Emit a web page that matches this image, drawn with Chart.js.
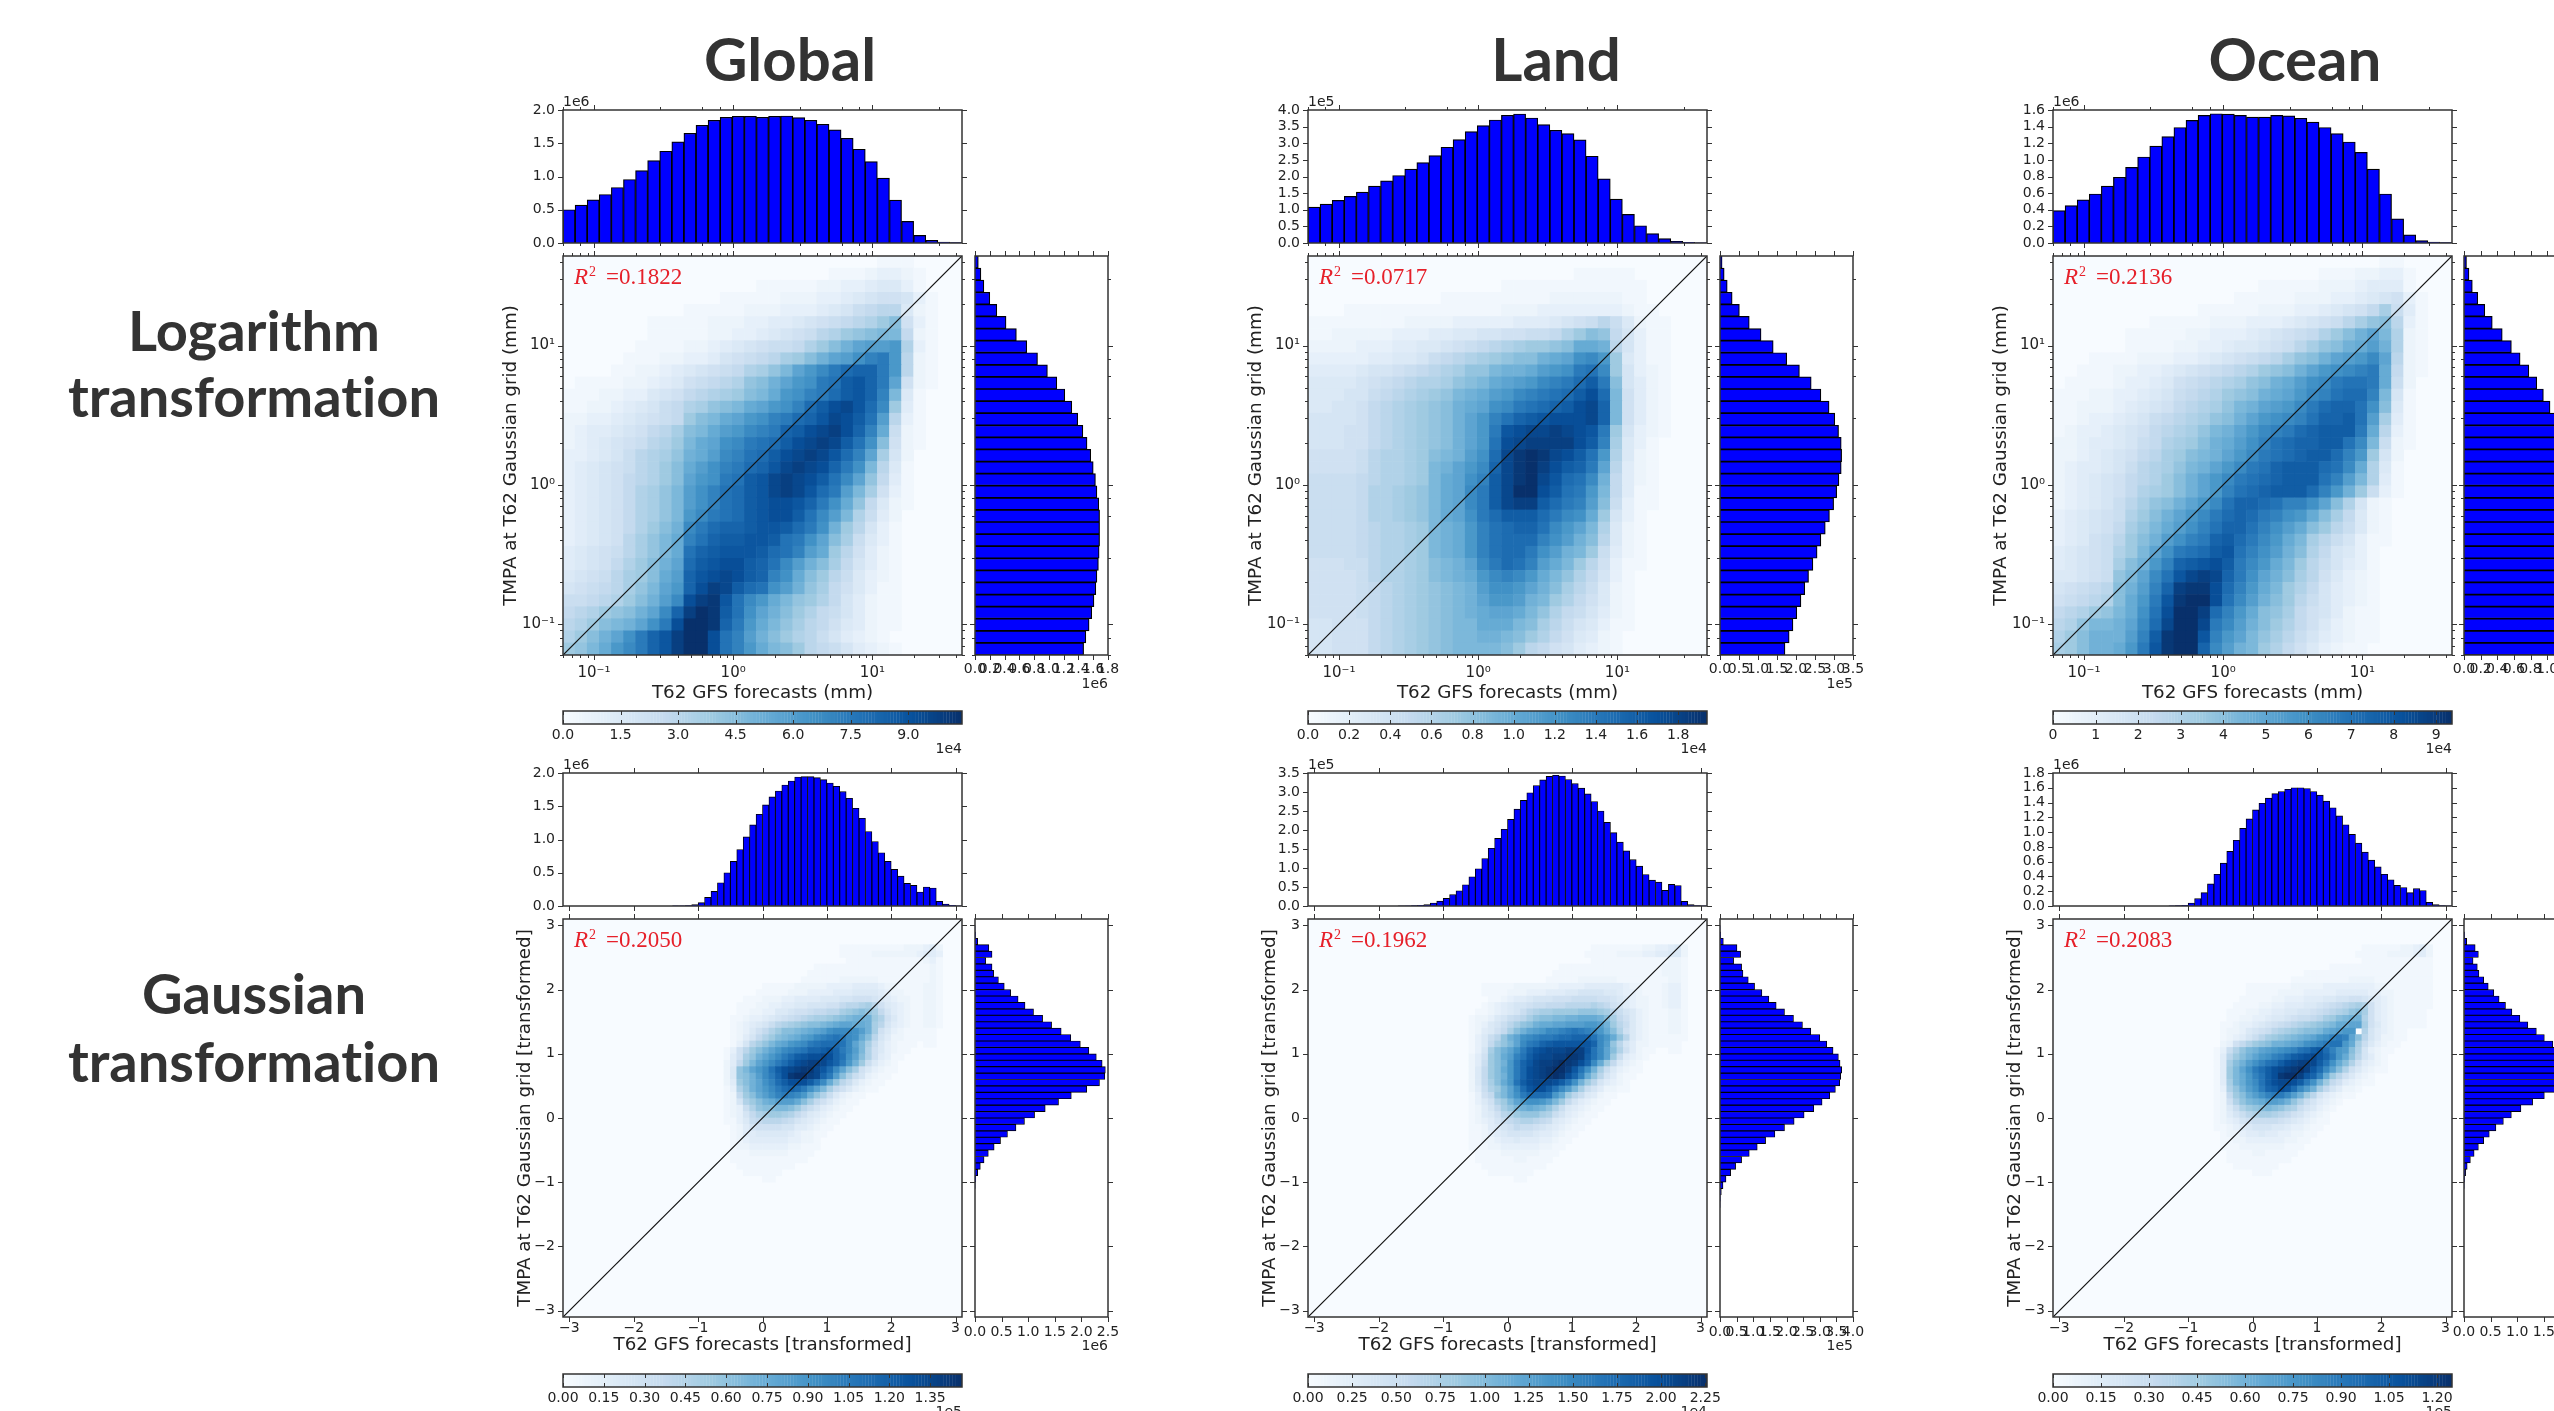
<!DOCTYPE html>
<html><head><meta charset="utf-8">
<script src="https://cdn.jsdelivr.net/npm/chart.js@4"></script>
<style>
html,body{margin:0;padding:0;background:#fff;width:2554px;height:1411px;overflow:hidden}
#page{position:relative;width:2554px;height:1411px;overflow:hidden}
canvas{position:absolute;filter:blur(.55px)}
.hd{position:absolute;font-family:Lato,sans-serif;font-weight:700;color:#333;transform:translateX(-50%);white-space:nowrap;line-height:1;filter:blur(.4px);font-variant-ligatures:none}
</style></head><body><div id="page"></div>
<script>
const heatLogGlobal=[
"00000 00000 00000 00000 00000 01110 000",
"00000 00000 00000 00000 00111 23321 000",
"00000 00000 00000 01111 12233 45531 000",
"00000 00000 00011 11122 23345 67763 100",
"00000 00000 11111 22233 34568 9aa52 100",
"00000 00111 11222 33445 6789a bdf73 100",
"00000 00111 11223 34567 8abde fgg92 100",
"00000 01111 22345 67889 bdfhj kklb3 100",
"00000 11122 33467 89acd fhjkm opla2 100",
"00001 12234 56789 bcegj lnprs spla2 100",
"01111 22345 789ab efhjl mpqtu spj72 100",
"11122 33567 9abcd fgilm oprtu sog51 000",
"11223 45689 bcefg ijlmo rtvwu rnd41 000",
"22334 56789 dfgij lmopr suwvt qka31 000",
"23445 679ac fgikl nopst vwxvs oi821 000",
"23456 78abd gijmn pqrtv wxwtq mf721 000",
"33456 8abce hikno qrtvw xwuro jc620 000",
"34567 8abdf ikmop rsuwx wvspm ga510 000",
"34567 9abdf jlmpq tuwxw vtqnj e9410 000",
"34567 9bceg kmoqr tuwxw urpkg c7310 000",
"34567 9bceg kmoqr tuvvu spmie 95210 000",
"34567 9bceg lnpqr tuvvt qnkgb 84200 000",
"34567 9bdfh nprss tuutr pmhda 63100 000",
"34567 acegi oqstt uutqp mjfc8 53100 000",
"45678 acegi qstuu utrqo kida7 42100 000",
"45679 bdfhj rtuvv tsqnk hfc96 42100 000",
"5678a cdfik suvwv tsomi fda85 32100 000",
"6789a cegjl svxwt rqmkh ec975 31100 000",
"889ab dfhkn vxyuq nlige db964 21100 000",
"9abde fhjns xzytq mjhfd b9864 21100 000",
"abdfg hjmpv zzysp ligec a9754 21100 000",
"bdfhj mpsux zzvqo khfdb a8643 21000 000",
"degil npsux zzvqo ligfd a9864 32100 000"];
const heatLogLand=[
"00000 00000 00000 00000 00000 00000 000",
"00000 00000 00000 00000 00111 11000 000",
"00000 00000 00000 01111 11111 11100 000",
"00000 00000 01111 11111 22222 21100 000",
"00011 11111 11111 12223 33333 32110 000",
"11111 11122 22333 33444 5678a 85211 000",
"11222 22333 44556 67788 9bdfe 96311 000",
"22223 33445 56789 abcdd efiih a6311 000",
"33333 44556 89abc deffh ijmnl d5311 000",
"44445 66789 abcee ghhik lmpqn d6321 000",
"55556 789ab bcefg ijkln oprtp f6421 000",
"55566 89abc deghi klnop qrtvr g7421 000",
"55667 9abcd efhij mnpqr stvws g7421 000",
"66667 9abcd efhjl oqstu vvvws g7421 000",
"66677 9abcd efhjl puvww xwvup d6321 000",
"66677 9abcd efhjl qvwxx xxvto c5310 000",
"77778 abbcd fghkm rwyzy wvtql b5210 000",
"77778 abbcd ghjln swyzx vtspj a4210 000",
"88889 abbcd gijmo twyzw urqnh 94210 000",
"88889 bbcde gijnp twzzv tqplg 94110 000",
"88889 bbcde gijnp twxxt rpokf 83110 000",
"88889 bbcde gijmp rtttr pnmid 63100 000",
"88889 abbcd ghilo qrssq nljgb 52100 000",
"88889 abbcd ghilo qrrro mkhfa 52100 000",
"88889 abbcd ghilo qrrpm khgd8 42100 000",
"77788 abbcd fghjn prqok igda7 31100 000",
"77778 abbcd fghil nonli geb96 31000 000",
"77778 9abcd efghk mmljh fca85 21000 000",
"77778 9abcd efghj llkhg db975 21000 000",
"77778 9abcd efghi jjige b9864 21000 000",
"66777 9abcd efggi iigfc a8653 11000 000",
"66777 9abcd efggh hgfdb 97542 10000 000",
"66777 9abcd efggg gfda9 76432 10000 000"];
const heatLogOcean=[
"00000 00000 00000 00000 00000 00110 000",
"00000 00000 00000 00000 00111 22331 000",
"00000 00000 00000 00111 11222 34441 000",
"00000 00000 00000 11111 22233 45673 100",
"00000 00000 00111 11222 33456 79c84 100",
"00000 00011 11122 23334 5678a cefa3 100",
"00000 01111 12233 34567 89bdf hjgb2 100",
"00000 01111 22334 55678 acefh ikhb2 100",
"00011 11222 33456 789ac efhjk lnja2 100",
"00111 22334 56789 abdef hjlmn opi92 100",
"01111 23345 789ab cefhi kmnpq qpi82 000",
"11122 33456 89abd efhij lnoqr rog61 000",
"11222 34567 9abce ghjkl nprss qmf51 000",
"11233 45689 abcef hjlmn oqsst qkc41 000",
"12334 5679a bcegh jlnop rsttt pia31 000",
"22344 5689b cdfhi kmoqr ssttq ng821 000",
"22345 679ac dfghj lnpqr sttro ld620 000",
"23445 68abc eghjl npqst ttrqn ib510 000",
"23456 79abd fhjln pqrst ttqok gb410 000",
"23456 79bcd fhjlo qrstt trolh d8310 000",
"23456 8acef hjlnq ssrqo omjfb 62100 000",
"34567 8bdfh jlnpr srpom lifc9 52100 000",
"34567 9cegi kmoqs sqomk ifda8 52100 000",
"34578 adfhk mopst rpnli gca86 31100 000",
"45678 bdgjm pqrtu qomkh fb965 31000 000",
"45678 cfhlo stuvt pnlig da864 31000 000",
"55678 egjnq uwxws pmjhf ca753 21000 000",
"6789a fhkos xyyvr oligd b9643 21000 000",
"789ab filpu yzzvq nkhfd a8643 21000 000",
"9abde gimqv zzxro lifec 97642 11000 000",
"abegg hjnrw zzwpn khfdb 97532 11000 000",
"bdfhh hkoty zzuol jgeca 86432 11000 000",
"cdfhh ilpuy zzsnk hgdb9 75321 10000 000"];
const heatGaussGlobal=[
"00000 00000 00000 00000 00011 11111 11122 23420",
"00000 00000 00000 00000 00011 11122 22222 34430",
"00000 00000 00000 00000 00001 11111 11111 12310",
"00000 00000 00000 00001 11111 11111 11111 11210",
"00000 00000 00000 00011 11111 11111 11111 11210",
"00000 00000 00000 00111 11122 22221 11111 11210",
"00000 00000 01111 12222 23333 44443 22111 12210",
"00000 00000 11111 22233 33444 55554 32211 12210",
"00000 00011 12223 34444 55566 77765 43221 12210",
"00000 00111 22334 45566 6779a abca7 54321 12210",
"00000 00112 23355 67789 9aacd efec9 64321 12210",
"00000 01123 34567 89abc cdefg hhhdb 75321 12210",
"00000 01234 568ab cdeff ghijj iihca 64321 12210",
"00000 01235 79bdf fghij kmnnn mkhc7 53211 11100",
"00000 01246 9bdfg hikln opqpn mifa6 42211 11100",
"00000 0136a cegij lmnpq rrrqn jgc85 32111 01100",
"00000 1 37ad fhjln opqss tuspn kgb75 32110",
"00000 147ce hjlnp rtuvv wvsqm jfb74 31100",
"00000 249dg jlnpr tvwxx wuspl hd853 21000",
"00000 25egj lnqtv wxyyw urnjf c7532 11000",
"00000 25efh knpsv yzzxw spkfb 86321 10000",
"00000 24dfh jmort vvvtq niea8 53211",
"00000 13beh jlnpr srpmj gc975 32110",
"00000 129df ikmop onlhe b8532 11000",
"00000 126bd fhikk kifc9 75321 10000",
"00000 1238b effgg fda86 43211",
"00000 12369 bcddc b9754 32110",
"00000 11358 9aaa9 86543 21100",
"00000 01246 77776 64432 11000",
"00000 01244 55555 43221 10000",
"00000 01234 44444 33221 00000",
"00000 01223 33333 22111",
"00000 01112 22222 11110",
"00000 01111 11111 11100",
"00000 00111 11111 10000",
"00000 00011 11110 00000",
"00000 00000 01100 00000"];
const heatGaussLand=[
"00000 00000 00000 00000 00001 11111 11223 34520",
"00000 00000 00000 00000 00011 11122 22334 45520",
"00000 00000 00000 00000 00001 11111 11111 12210",
"00000 00000 00000 00001 11111 11111 11111 22210",
"00000 00000 00000 00011 11111 11111 11111 22210",
"00000 00000 00000 00111 11222 22211 11111 12210",
"00000 00111 11222 22223 33344 44443 22111 23310",
"00000 00111 12223 33444 55666 65543 32111 23310",
"00000 00011 23445 66677 78888 77654 32211 23310",
"00000 00123 45667 88999 aaaab a9764 32211 23310",
"00000 01123 4568a bccdd ddeee dca86 53211 12210",
"00000 12235 689ac effgg hhiii hfc97 53211 12210",
"00000 12356 8acef hiijj kkkll khda8 53211 12210",
"00000 12457 9cfhj klnno pqpon lifb7 53211 12210",
"00000 1358a ehjmn oppqr rsssq nliea 53211 11110",
"00000 1359c egjnp qstuu uuuus nkea6 42211 11100",
"00000 136cf hjmps uvwww xxxuq njfb7 42110 01100",
"00000 247df ikoqt vwwxx yyxtq njd84 32100",
"00000 248df hlpsu wxxyz yxvsn id953 21000",
"00000 259df ilpsv wxyzz xuqmh c8532 11000",
"00000 259df hlpsv wxyzy vsoie a6421 10000",
"00000 259cf ilqtv wwwvt qmhda 64321",
"00000 248bd gjnru vvtqn kgc86 42211",
"00000 1379e gjmpr rrqli da854 21100",
"00000 1357b dgjlm mljgd 96432 11000",
"00000 12469 cegh i hgeb8 54321 10000",
"00000 12457 abdee ecb86 43211",
"00000 12346 89abb a9854 32110",
"00000 11245 67988 76543 21100",
"00000 11234 56666 54432 11000",
"00000 11223 44544 43321 10000",
"00000 11122 33333 32211",
"00000 01111 22222 21110",
"00000 01111 11221 11100",
"00000 00111 11111 11000",
"00000 00011 11111",
"00000 00000 00110"];
const heatGaussOcean=[
"00000 00000 00000 00000 00000 00011 11112 23420",
"00000 00000 00000 00000 00000 00111 11222 23420",
"00000 00000 00000 00000 00000 00011 11111 11110",
"00000 00000 00000 00000 00011 11111 11111 11110",
"00000 00000 00000 00001 11111 11111 11111 11110",
"00000 00000 00000 00111 11111 12222 11111 11110",
"00000 00000 11111 11222 22333 33333 22111 11110",
"00000 00000 11111 22223 33334 44443 32211 11110",
"00000 00001 11112 23334 44556 67765 43211 11110",
"00000 00011 11223 34445 56789 abcb7 43211 11110",
"00000 00111 22334 45566 789ab cefc7 43211 11100",
"00000 00112 23345 56788 9acdf ghhb7 43211 11100",
"00000 01123 34567 89abc defgi ijjc7 53211 11100",
"00000 01223 5678a bcdef fgijk llјb6 43211 00000",
"00000 01234 68acd efghi jlmop ojfa6 42211",
"00000 02379 bdefh hijkm nopqq lic85 32110",
"00000 1 38be ghjkl mnoqr turol kfb63 21100",
"00000 14adf hjlmo prtuv wuspl iea64 21000",
"00000 14cfh kmoqr tvwxx wtqmi fb743 21000",
"00000 14dgj mprtv wxyzx urnjf b7532 11000",
"00000 14dgi loqtv yzzxu soida 75321 00000",
"00000 14cgi lnqtv wwvtp mhd97 43211",
"00000 13beh kmpst vurnk hc964 22100",
"00000 129df ikmop pnkhd a6432 11000",
"00000 127be ghikk jheb8 64321",
"00000 1258b defgf ecb86 5321",
"00000 12468 abccb a9764 321",
"00000 12346 78888 76543 211",
"00000 11234 56665 54332 11",
"00000 01223 44544 33221 1",
"00000 01122 33333 32211",
"00000 01112 22222 2111",
"00000 00111 12211 111",
"00000 00111 11111 11",
"00000 00011 11111",
"00000 00000 01110",
"00000"];

const topLogGlobal=[.5,.57,.65,.73,.835,.955,1.09,1.24,1.38,1.52,1.65,1.77,1.845,1.89,1.905,1.905,1.89,1.905,1.91,1.885,1.845,1.785,1.7,1.575,1.41,1.225,.975,.645,.325,.115,.04,.012,.005];
const topLogLand=[1.08,1.17,1.28,1.4,1.53,1.71,1.87,2.03,2.22,2.42,2.63,2.88,3.11,3.35,3.53,3.7,3.84,3.88,3.76,3.56,3.39,3.29,3.1,2.61,1.93,1.32,.86,.52,.28,.13,.05,.02,.005];
const topLogOcean=[.39,.45,.52,.59,.685,.79,.91,1.035,1.165,1.28,1.39,1.475,1.535,1.555,1.55,1.535,1.515,1.515,1.535,1.53,1.5,1.455,1.39,1.315,1.215,1.09,.89,.59,.29,.097,.03,.01,.005];
const rightLogGlobal=[1.47,1.5,1.544,1.58,1.61,1.635,1.65,1.67,1.68,1.686,1.686,1.686,1.675,1.65,1.63,1.6,1.567,1.516,1.46,1.39,1.31,1.215,1.107,.98,.846,.7,.56,.42,.295,.2,.12,.08,.045];
const rightLogLand=[1.71,1.82,1.92,2.02,2.13,2.23,2.33,2.445,2.555,2.655,2.77,2.88,2.99,3.07,3.13,3.19,3.2,3.19,3.12,3.02,2.87,2.655,2.4,2.09,1.755,1.4,1.08,.77,.51,.32,.19,.11,.055];
const rightLogOcean=[1.18,1.2,1.23,1.26,1.28,1.3,1.32,1.33,1.34,1.35,1.35,1.35,1.34,1.32,1.3,1.27,1.24,1.2,1.15,1.1,1.035,.955,.875,.78,.675,.57,.46,.34,.25,.165,.1,.06,.03];
const topGaussGlobal=[0,0,0,0,0,0,0,0,0,0, 0,0,0,0,0,0,0,.002,.004,.008, .02,.05,.13,.22,.35,.5,.67,.85,1.04,1.22, 1.38,1.52,1.64,1.73,1.82,1.88,1.94,1.945,1.945,1.93, 1.9,1.85,1.8,1.72,1.62,1.47,1.32,1.12,.97,.8, .67,.55,.45,.34,.31,.21,.285,.27,.07,.03, .01,.003];
const topGaussLand=[0,0,0,0,0,0,0,0,0,0, 0,0,0,0,.002,.004,.01,.02,.04,.08, .13,.2,.3,.4,.56,.77,.98,1.25,1.52,1.78, 2.02,2.28,2.55,2.78,2.98,3.17,3.32,3.41,3.44,3.42, 3.33,3.22,3.1,2.95,2.75,2.5,2.2,1.93,1.68,1.45, 1.22,1.05,.83,.68,.63,.41,.57,.54,.12,.04, .01,.003];
const topGaussOcean=[0,0,0,0,0,0,0,0,0,0, 0,0,0,0,0,0,0,0,.002,.005, .01,.04,.1,.18,.3,.43,.58,.74,.89,1.05, 1.18,1.3,1.39,1.46,1.52,1.55,1.58,1.6,1.6,1.59, 1.55,1.5,1.42,1.33,1.22,1.1,.97,.85,.73,.62, .53,.43,.355,.28,.25,.18,.235,.21,.05,.02, .005,.002];
const rightGaussGlobal=[0,0,0,0,0,0,0,0,0,0, 0,0,0,0,0,0,0,0,0,0, .003,.015,.05,.1,.17,.25,.36,.48,.61,.77, .93,1.12,1.32,1.57,1.81,2.1,2.34,2.44,2.45,2.39, 2.28,2.14,1.98,1.8,1.62,1.44,1.27,1.1,.94,.81, .67,.55,.44,.35,.32,.2,.32,.26,.05,.01, .002,0];
const rightGaussLand=[0,0,0,0,0,0,0,0,0,0, 0,0,0,0,0,0,0,.003,.01,.04, .09,.18,.32,.47,.65,.88,1.12,1.37,1.65,1.94, 2.23,2.53,2.82,3.07,3.3,3.47,3.6,3.63,3.66,3.61, 3.56,3.4,3.21,3,2.73,2.48,2.21,1.94,1.69,1.47, 1.26,1.04,.85,.69,.65,.41,.62,.51,.1,.02, .005,0];
const rightGaussOcean=[0,0,0,0,0,0,0,0,0,0, 0,0,0,0,0,0,0,0,0,0, .003,.01,.03,.06,.12,.19,.27,.37,.475,.6, .74,.89,1.07,1.29,1.51,1.72,1.9,2,2.05,2, 1.9,1.8,1.67,1.51,1.36,1.2,1.05,.9,.78,.66, .56,.455,.37,.28,.25,.17,.27,.21,.05,.01, 0,0];

const logAxisTicks=[.06,.07,.08,.09,.1,.2,.3,.4,.5,.6,.7,.8,.9,1,2,3,4,5,6,7,8,9,10,20,30,40];
const logAxisMajor={0.1:'10⁻¹',1:'10⁰',10:'10¹'};
const gaussAxisTicks=[-3,-2,-1,0,1,2,3];
const AXIS_LOG=[.06,44], AXIS_GAUSS=[-3.1,3.1];
const LOG_BINS=33, GAUSS_BINS=62;
const columnNames=['Global','Land','Ocean'];
const rowNames=[['Logarithm','transformation'],['Gaussian','transformation']];
const rSquared=[['0.1822','0.0717','0.2136'],['0.2050','0.1962','0.2083']];
const xLabels=['T62 GFS forecasts (mm)','T62 GFS forecasts [transformed]'];
const yLabels=['TMPA at T62 Gaussian grid (mm)','TMPA at T62 Gaussian grid [transformed]'];
const topTicks=[[[0,.5,1,1.5,2],[0,.5,1,1.5,2,2.5,3,3.5,4],[0,.2,.4,.6,.8,1,1.2,1.4,1.6]],[[0,.5,1,1.5,2],[0,.5,1,1.5,2,2.5,3,3.5],[0,.2,.4,.6,.8,1,1.2,1.4,1.6,1.8]]];
const rightTicks=[[[0,.2,.4,.6,.8,1,1.2,1.4,1.6,1.8],[0,.5,1,1.5,2,2.5,3,3.5],[0,.2,.4,.6,.8,1,1.2,1.4,1.6]],[[0,.5,1,1.5,2,2.5],[0,.5,1,1.5,2,2.5,3,3.5,4],[0,.5,1,1.5,2,2.5]]];
const topExp=[['1e6','1e5','1e6'],['1e6','1e5','1e6']];
const rightExp=[['1e6','1e5','1e5'],['1e6','1e5','1e6']];
const cbTicks=[[[0,1.5,3,4.5,6,7.5,9],[0,.2,.4,.6,.8,1,1.2,1.4,1.6,1.8],[0,1,2,3,4,5,6,7,8,9]],[[0,.15,.3,.45,.6,.75,.9,1.05,1.2,1.35],[0,.25,.5,.75,1,1.25,1.5,1.75,2,2.25],[0,.15,.3,.45,.6,.75,.9,1.05,1.2]]];
const cbDigits=[[1,1,0],[2,2,2]];
const cbMax=[[10.4,1.94,9.37],[1.467,2.26,1.247]];
const cbExp=[['1e4','1e4','1e4'],['1e5','1e4','1e5']];

const BLUES=[[247,251,255],[222,235,247],[198,219,239],[158,202,225],[107,174,214],[66,146,198],[33,113,181],[8,81,156],[8,48,107]];
function blues(t){t=Math.min(1,Math.max(0,t))*8;const i=Math.min(7,Math.floor(t)),f=t-i,a=BLUES[i],b=BLUES[i+1];
 return 'rgb('+[0,1,2].map(k=>Math.round(a[k]+(b[k]-a[k])*f)).join(',')+')';}
const LEVELS='0123456789abcdefghijklmnopqrstuvwxyz';
const BLUES_BG='#f7fbff',R_COL='#e6202a';
const FONT='"DejaVu Sans"', TICKCOL='#222', TICKSIZE=14, LABELSIZE=18.3;
const page=document.getElementById('page');
const colX=[563,1308,2053], rightX=[975,1720,2464], PW=399, RW=133;
const rowGeo=[{hT:110,hH:133,mT:256,mH:399,cT:711,cH:13,yL:62.7,xB:49,xPad:9,rPad:6,expTop:-9,rExpY:28,cbExp:24,digitsPad:3,logSize:15},
              {hT:773,hH:133,mT:919,mH:398,cT:1374,cH:13,yL:49,xB:39,xPad:3,rPad:7,expTop:-9,rExpY:28,cbExp:24,digitsPad:3,logSize:14}];

function mkCanvas(x,y,w,h,m){const c=document.createElement('canvas');
 c.width=w+m.l+m.r;c.height=h+m.t+m.b;c.style.left=(x-m.l)+'px';c.style.top=(y-m.t)+'px';
 c.style.width=c.width+'px';c.style.height=c.height+'px';page.appendChild(c);return c.getContext('2d');}
function fixedAxis(size,horizontal){return s=>{if(horizontal)s.height=size;else s.width=size;s.paddingLeft=s.paddingRight=s.paddingTop=s.paddingBottom=0;};}
function setTicks(values,isMajor){return s=>{s.ticks=values.map(v=>({value:v,major:isMajor?isMajor(v):true}));};}
function frame(tx,ty,opts){opts=opts||{};return {id:'frame',
 beforeDatasetsDraw(ch){if(opts.bg){const a=ch.chartArea,c=ch.ctx;c.save();c.fillStyle=opts.bg;c.fillRect(a.left,a.top,a.width,a.height);c.restore();}},
 afterDraw(ch){const a=ch.chartArea,c=ch.ctx;c.save();c.strokeStyle='#333';c.lineWidth=1;c.beginPath();
  const inward=!!opts.inward;
  if(tx&&ch.scales[tx])ch.scales[tx].ticks.forEach(t=>{const p=Math.round(ch.scales[tx].getPixelForValue(t.value))+.5,l=t.major?5:3;
   if(p<a.left-1||p>a.right+1)return;
   if(inward){c.moveTo(p,a.top);c.lineTo(p,a.top+4);c.moveTo(p,a.bottom);c.lineTo(p,a.bottom-4);}
   else{c.moveTo(p,a.top);c.lineTo(p,a.top-l);c.moveTo(p,a.bottom);c.lineTo(p,a.bottom+l);}});
  if(ty&&ch.scales[ty])ch.scales[ty].ticks.forEach(t=>{const p=Math.round(ch.scales[ty].getPixelForValue(t.value))+.5,l=t.major?5:3;
   if(p<a.top-1||p>a.bottom+1)return;
   c.moveTo(a.left,p);c.lineTo(a.left-l,p);c.moveTo(a.right,p);c.lineTo(a.right+l,p);});
  c.stroke();c.lineWidth=1.5;c.strokeStyle='#333';c.strokeRect(a.left,a.top,a.width,a.height);
  (opts.notes||[]).forEach(n=>{c.fillStyle=n.color||TICKCOL;c.font=n.font||(TICKSIZE+'px '+FONT);c.textAlign=n.align||'left';c.textBaseline='alphabetic';
   c.fillText(n.text,a.left+(n.dx||0)+(n.fromRight?a.width:0),a.top+(n.dy||0)+(n.fromBottom?a.height:0));});
  c.restore();}};}
const tickFont={family:FONT,size:TICKSIZE};
const base={responsive:false,animation:false,events:[],plugins:{legend:{display:false},tooltip:{enabled:false}}};
function hiddenTickAxis(axis,pos,rowIdx){const log=rowIdx===0;return {type:log?'logarithmic':'linear',axis,position:pos,display:false,offset:false,min:(log?AXIS_LOG:AXIS_GAUSS)[0],max:(log?AXIS_LOG:AXIS_GAUSS)[1],
 afterBuildTicks:setTicks(log?logAxisTicks:gaussAxisTicks,log?(v=>v in logAxisMajor):null)};}
function labelsOf(n){return Array.from({length:n},(_,i)=>i);}
function barWidth(r){return r===0?1.2:.9;}

function topHist(r,c,vals){const g=rowGeo[r],m={l:60,t:22,r:20,b:14};const ctx=mkCanvas(colX[c],g.hT,PW,g.hH,m);
 const ticks=topTicks[r][c];
 new Chart(ctx,{type:'bar',data:{labels:labelsOf(vals.length),datasets:[{data:vals,backgroundColor:'#0000ff',borderColor:'#000',borderWidth:barWidth(r),barPercentage:1,categoryPercentage:1,xAxisID:'x',yAxisID:'y'}]},
  options:{...base,layout:{padding:{top:m.t,right:m.r,bottom:m.b,left:0}},
   scales:{x:{type:'category',display:false,offset:true},tx:hiddenTickAxis('x','bottom',r),
    y:{type:'linear',position:'left',min:0,max:ticks[ticks.length-1],afterBuildTicks:setTicks(ticks),afterFit:fixedAxis(m.l,false),border:{display:false},grid:{display:false,drawTicks:false},
     ticks:{autoSkip:false,padding:8,color:TICKCOL,font:tickFont,callback:v=>v.toFixed(1)}}}},
  plugins:[frame('tx','y',{notes:[{text:topExp[r][c],dx:0,dy:g.expTop+5}]})]});}

function rightHist(r,c,vals){const g=rowGeo[r],m={l:24,t:8,r:30,b:46};const ctx=mkCanvas(rightX[c],g.mT,RW,g.mH,m);
 const ticks=rightTicks[r][c];
 new Chart(ctx,{type:'bar',data:{labels:labelsOf(vals.length),datasets:[{data:vals,backgroundColor:'#0000ff',borderColor:'#000',borderWidth:barWidth(r),barPercentage:1,categoryPercentage:1,xAxisID:'x',yAxisID:'y'}]},
  options:{...base,indexAxis:'y',layout:{padding:{top:m.t,right:m.r,bottom:0,left:m.l}},
   scales:{y:{type:'category',display:false,reverse:true,offset:true},ty:hiddenTickAxis('y','left',r),
    x:{type:'linear',position:'bottom',min:0,max:ticks[ticks.length-1],afterBuildTicks:setTicks(ticks),afterFit:fixedAxis(m.b,true),border:{display:false},grid:{display:false,drawTicks:false},
     ticks:{autoSkip:false,maxRotation:0,minRotation:0,padding:g.rPad,color:TICKCOL,font:tickFont,callback:v=>v.toFixed(1)}}}},
  plugins:[frame('x','ty',{notes:[{text:rightExp[r][c],align:'right',dx:0,fromRight:true,fromBottom:true,dy:g.rExpY+5}]})]});}

function heat(r,c,rows){const g=rowGeo[r],log=r===0,m={l:Math.round(g.yL),t:8,r:8,b:g.xB};
 const ctx=mkCanvas(colX[c],g.mT,PW,g.mH,m);
 const vmax=cbMax[r][c],range=log?AXIS_LOG:AXIS_GAUSS,bins=log?LOG_BINS:GAUSS_BINS;
 const lo=log?Math.log10(range[0]):range[0],hi=log?Math.log10(range[1]):range[1],step=(hi-lo)/bins;
 const centre=k=>{const v=lo+(k+.5)*step;return log?Math.pow(10,v):v;};
 const top=log?LOG_BINS-1:57,colStart=log?0:20;
 const cells=[];
 rows.forEach((row,ri)=>{const s=row.replace(/ /g,'');for(let ci=0;ci<s.length;ci++){const lv=LEVELS.indexOf(s[ci]);
   if(lv>0)cells.push({x:centre(ci+colStart),y:centre(top-ri),v:lv/35*vmax});}});
 const tickVals=log?logAxisTicks:gaussAxisTicks,isMajor=log?(v=>v in logAxisMajor):null;
 const fmt=log?(v=>logAxisMajor[v]||''):(v=>String(v).replace('-','−'));
 const axis=(id,pos,title,size)=>({type:log?'logarithmic':'linear',position:pos,min:range[0],max:range[1],afterBuildTicks:setTicks(tickVals,isMajor),afterFit:fixedAxis(size,pos==='bottom'),border:{display:false},grid:{display:false,drawTicks:false},
   title:{display:true,text:title,color:TICKCOL,font:{family:FONT,size:LABELSIZE,lineHeight:1.2},padding:0},
   ticks:{autoSkip:false,maxRotation:0,minRotation:0,padding:pos==='bottom'?g.xPad:8,color:TICKCOL,font:{family:FONT,size:g.logSize},callback:fmt}});
 new Chart(ctx,{type:'scatter',data:{datasets:[
   {label:'1:1',data:[{x:range[0],y:range[0]},{x:range[1],y:range[1]}],showLine:true,borderColor:'#111',borderWidth:1.2,pointRadius:0,order:0},
   {label:'cells',data:cells,order:1,pointStyle:'rect',pointBorderWidth:0,
    pointRadius:x=>x.chart.chartArea?(x.chart.chartArea.width/bins/2+.3)/Math.SQRT1_2:1,
    pointBackgroundColor:x=>x.raw?blues(x.raw.v/vmax):'#000'}]},
  options:{...base,layout:{padding:{top:m.t,right:m.r,bottom:0,left:0}},
   scales:{x:axis('x','bottom',xLabels[r],m.b),y:axis('y','left',yLabels[r],m.l)}},
  plugins:[frame('x','y',{bg:BLUES_BG,notes:[
    {text:'R',color:R_COL,font:'italic 23px "Liberation Serif"',dx:11,dy:28},
    {text:'2',color:R_COL,font:'14px "Liberation Serif"',dx:26,dy:20},
    {text:'='+rSquared[r][c],color:R_COL,font:'23px "Liberation Serif"',dx:43,dy:28}]})]});}

function colorbar(r,c){const g=rowGeo[r],m={l:30,t:6,r:34,b:46};const ctx=mkCanvas(colX[c],g.cT,PW,g.cH,m);
 const vmax=cbMax[r][c],ticks=cbTicks[r][c],d=cbDigits[r][c],N=128;
 const labels=labelsOf(N);
 new Chart(ctx,{type:'bar',data:{labels,datasets:[{data:labels.map(()=>1),backgroundColor:labels.map(i=>blues((i+.5)/N)),borderWidth:0,barPercentage:1.1,categoryPercentage:1,xAxisID:'x',yAxisID:'y'}]},
  options:{...base,layout:{padding:{top:m.t,right:m.r,bottom:0,left:m.l}},
   scales:{x:{type:'category',display:false,offset:true},y:{type:'linear',display:false,min:0,max:1},
    tx:{type:'linear',axis:'x',position:'bottom',offset:false,min:0,max:vmax,afterBuildTicks:setTicks(ticks),afterFit:fixedAxis(m.b,true),border:{display:false},grid:{display:false,drawTicks:false},
     ticks:{autoSkip:false,maxRotation:0,minRotation:0,padding:g.digitsPad,color:TICKCOL,font:tickFont,callback:v=>v.toFixed(d)}}}},
  plugins:[frame('tx',null,{inward:true,notes:[{text:cbExp[r][c],align:'right',fromRight:true,fromBottom:true,dy:g.cbExp+5}]})]});}

const heats=[[heatLogGlobal,heatLogLand,heatLogOcean],[heatGaussGlobal,heatGaussLand,heatGaussOcean]];
const tops=[[topLogGlobal,topLogLand,topLogOcean],[topGaussGlobal,topGaussLand,topGaussOcean]];
const rights=[[rightLogGlobal,rightLogLand,rightLogOcean],[rightGaussGlobal,rightGaussLand,rightGaussOcean]];
for(let r=0;r<2;r++)for(let c=0;c<3;c++){topHist(r,c,tops[r][c]);heat(r,c,heats[r][c]);rightHist(r,c,rights[r][c]);colorbar(r,c);}

function hd(text,x,y,size){const d=document.createElement('div');d.className='hd';d.textContent=text;d.style.left=x+'px';d.style.top=(y-size/2)+'px';d.style.fontSize=size+'px';page.appendChild(d);}
const colCentre=[790,1556,2295];
columnNames.forEach((n,i)=>hd(n,colCentre[i],57.5,60));
hd(rowNames[0][0],254,330,56);hd(rowNames[0][1],254,396,56);hd(rowNames[1][0],254,993,56);hd(rowNames[1][1],254,1061,56);
</script></body></html>
